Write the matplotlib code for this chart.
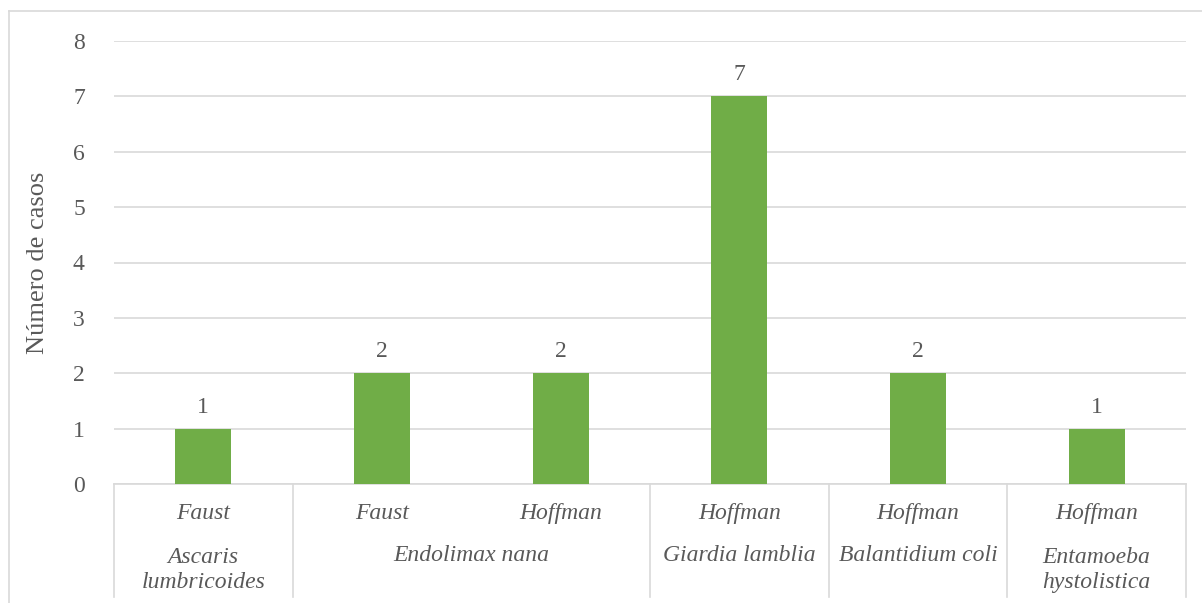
import matplotlib.pyplot as plt
import matplotlib.transforms as mtransforms
from matplotlib.lines import Line2D
import numpy as np

# data
methods = ['Faust', 'Faust', 'Hoffman', 'Hoffman', 'Hoffman', 'Hoffman']
casos = [1, 2, 2, 7, 2, 1]
especies = ['Ascaris\nlumbricoides', 'Endolimax nana', 'Giardia lamblia',
            'Balantidium coli', 'Entamoeba\nhystolistica']
grupo_n = [1, 2, 1, 1, 1]   # how many bars per species
y_ticks = [0, 1, 2, 3, 4, 5, 6, 7, 8]

plt.rcParams['font.family'] = ['Liberation Serif', 'DejaVu Serif']
gray = '#595959'
grid = '#d9d9d9'
fs = 17

fig = plt.figure(figsize=(12.02, 6.03), dpi=100)
ax = fig.add_axes([114/1202, 1-484/603, (1186-114)/1202, (484-41)/603])

x = np.arange(len(casos)) + 0.5
ax.bar(x, casos, width=0.315, color='#70AD47', zorder=3)
for xi, v in zip(x, casos):
    ax.text(xi, v + 0.2, str(v), ha='center', va='bottom', fontsize=fs, color=gray)

ax.set_xlim(0, len(casos))
ax.set_ylim(0, 8)
ax.set_yticks(y_ticks)
ax.set_xticks([])
ax.yaxis.grid(True, color=grid, lw=1.2, zorder=0)
ax.tick_params(axis='y', length=0, labelsize=fs, labelcolor=gray, pad=21)
for s in ['top', 'right', 'left']:
    ax.spines[s].set_visible(False)
ax.spines['bottom'].set_color(grid)
ax.spines['bottom'].set_linewidth(1.2)
ax.set_ylabel('Número de casos', fontsize=19, color=gray, labelpad=17)

trans = mtransforms.blended_transform_factory(ax.transData, ax.transAxes)
for xi, m in zip(x, methods):
    ax.text(xi, -0.067, m, ha='center', va='center', fontsize=fs, style='italic',
            color=gray, transform=trans)

bounds = np.concatenate([[0], np.cumsum(grupo_n)])
for b in bounds:
    ax.plot([b, b], [0, -0.255], color=grid, lw=1.2, transform=trans, clip_on=False)
for i, sp in enumerate(especies):
    c = (bounds[i] + bounds[i+1]) / 2
    yy = -0.194 if '\n' in sp else -0.161
    ax.text(c, yy, sp, ha='center', va='center', fontsize=fs, style='italic',
            color=gray, transform=trans, linespacing=1.25)

# outer chart frame
fig.add_artist(Line2D([9/1202, 9/1202], [0, 1-11/603], color=grid, lw=1.2, transform=fig.transFigure))
fig.add_artist(Line2D([9/1202, 1], [1-11/603, 1-11/603], color=grid, lw=1.2, transform=fig.transFigure))

fig.savefig('out.png', dpi=100)
